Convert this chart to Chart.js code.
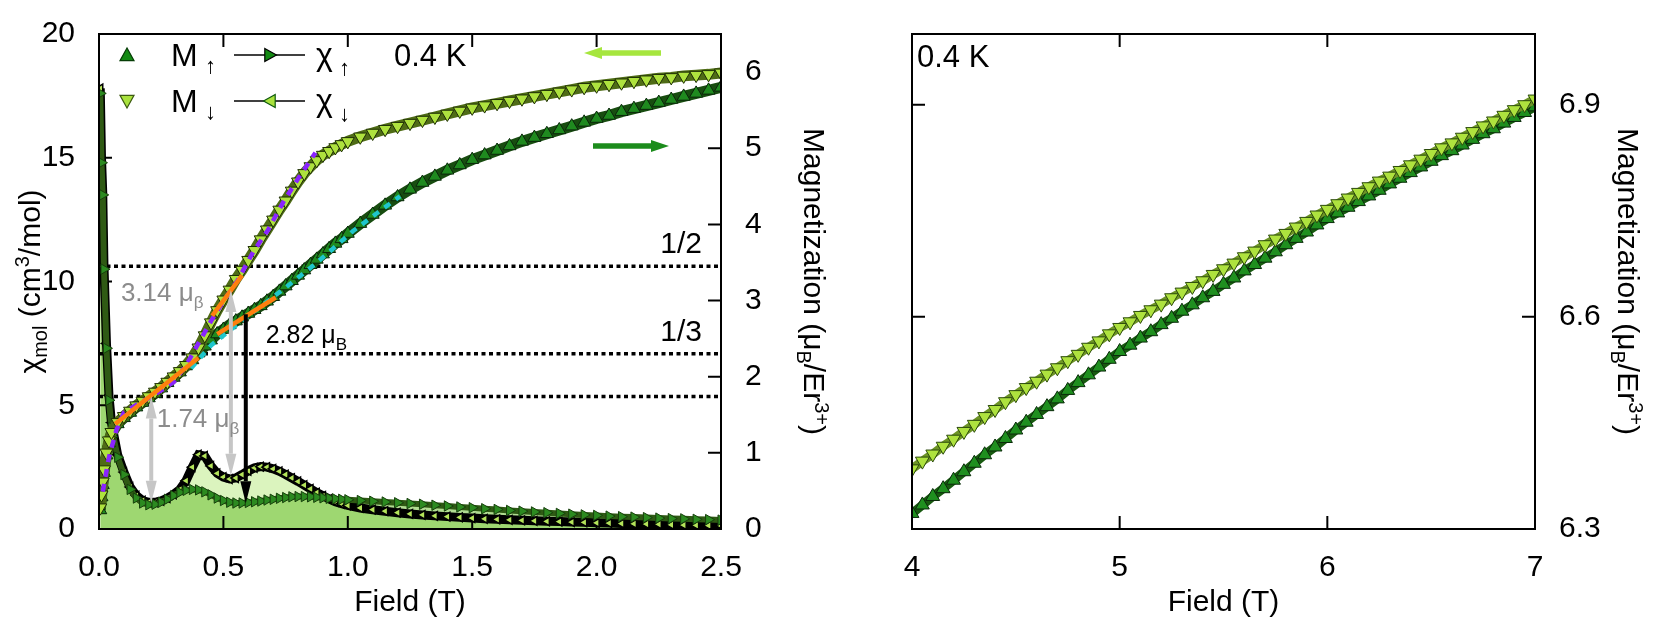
<!DOCTYPE html>
<html>
<head>
<meta charset="utf-8">
<script src="https://cdn.jsdelivr.net/npm/chart.js@4.4.1/dist/chart.umd.min.js"></script>
<style>
  html, body { margin: 0; padding: 0; background: #fff; }
  #wrap { position: relative; width: 1662px; height: 624px; }
  canvas { position: absolute; top: 0; }
  #left { left: 0; }
  #right { left: 860px; }
</style>
</head>
<body>
<div id="wrap">
  <canvas id="left" width="860" height="624"></canvas>
  <canvas id="right" width="802" height="624"></canvas>
</div>
<script>
// ---- left panel: 0 - 2.5 T ----
const FIELD = [0.005,0.01,0.015,0.02,0.03,0.04,0.05,
  0.075,0.1,0.125,0.15,0.175,0.2,0.225,0.25,0.275,0.3,
  0.325,0.35,0.375,0.4,0.425,0.45,0.475,0.5,0.525,0.55,
  0.575,0.6,0.625,0.65,0.675,0.7,0.725,0.75,0.775,0.8,
  0.825,0.85,0.875,0.9,0.925,0.95,0.975,1.0,
  1.05,1.1,1.15,1.2,1.25,1.3,1.35,1.4,1.45,1.5,
  1.55,1.6,1.65,1.7,1.75,1.8,1.85,1.9,1.95,2.0,
  2.05,2.1,2.15,2.2,2.25,2.3,2.35,2.4,2.45,2.5];

// magnetization, uB/Er3+
const M_DOWN = [0.28,0.45,0.62,0.78,1.00,1.16,1.27,
  1.40,1.48,1.55,1.62,1.68,1.74,1.80,1.86,1.93,2.00,
  2.07,2.15,2.25,2.38,2.54,2.71,2.87,3.01,3.14,3.28,
  3.40,3.53,3.66,3.80,3.93,4.06,4.19,4.31,4.44,4.56,
  4.67,4.76,4.84,4.91,4.96,5.01,5.05,5.09,
  5.15,5.20,5.25,5.29,5.33,5.37,5.41,5.45,5.49,5.53,
  5.56,5.59,5.62,5.65,5.68,5.71,5.74,5.77,5.80,5.82,
  5.84,5.86,5.88,5.90,5.92,5.93,5.95,5.96,5.97,5.99];
const M_UP = [0.25,0.42,0.58,0.74,0.97,1.13,1.25,
  1.38,1.46,1.53,1.60,1.66,1.72,1.78,1.85,1.92,1.99,
  2.06,2.14,2.22,2.31,2.40,2.48,2.56,2.62,2.68,2.73,
  2.78,2.83,2.88,2.93,2.99,3.05,3.12,3.19,3.26,3.33,
  3.40,3.47,3.54,3.61,3.68,3.75,3.81,3.88,
  4.01,4.13,4.25,4.36,4.46,4.55,4.63,4.71,4.78,4.85,
  4.91,4.97,5.03,5.09,5.14,5.19,5.24,5.29,5.34,5.39,
  5.43,5.48,5.52,5.56,5.60,5.64,5.68,5.72,5.76,5.80];

// susceptibility, cm3/mol
const CHI_DOWN = [17.8,15.0,13.6,10.6,7.5,5.4,4.3,
  3.0,2.3,1.7,1.35,1.15,1.08,1.08,1.14,1.25,1.4,
  1.6,1.95,2.5,3.0,2.95,2.55,2.25,2.1,2.02,2.06,
  2.2,2.35,2.47,2.52,2.5,2.43,2.33,2.2,2.06,1.92,
  1.77,1.62,1.47,1.34,1.21,1.1,1.02,0.95,
  0.85,0.78,0.72,0.66,0.61,0.57,0.53,0.5,0.47,0.44,
  0.41,0.39,0.37,0.35,0.33,0.31,0.3,0.28,0.27,0.25,
  0.24,0.22,0.21,0.2,0.19,0.17,0.16,0.15,0.14,0.13];
const CHI_UP = [17.6,14.8,13.5,10.5,7.3,5.2,4.1,
  2.9,2.2,1.6,1.25,1.05,0.98,1.0,1.08,1.2,1.35,
  1.48,1.56,1.6,1.58,1.5,1.38,1.25,1.15,1.08,1.05,
  1.05,1.07,1.1,1.13,1.17,1.2,1.24,1.27,1.3,1.31,
  1.31,1.3,1.28,1.26,1.24,1.22,1.2,1.18,
  1.15,1.12,1.09,1.06,1.03,1.0,0.96,0.93,0.89,0.86,
  0.82,0.79,0.75,0.72,0.69,0.66,0.63,0.6,0.57,0.55,
  0.52,0.5,0.48,0.46,0.44,0.42,0.41,0.39,0.38,0.36];

// fits (uB)
const ORANGE1_F = [0.065, 0.40],  ORANGE1_M = [1.38, 2.25];
const ORANGE2_F = [0.455, 0.575], ORANGE2_M = [2.80, 3.33];
const ORANGE3_F = [0.475, 0.71],  ORANGE3_M = [2.56, 3.04];
const PURPLE_F = [0.015,0.04,0.07,0.1,0.15,0.2,0.25,0.3,0.35,0.4,0.45,0.5,0.56,0.62,0.68,0.74,0.81,0.87];
const PURPLE_M = [0.49,0.94,1.30,1.53,1.63,1.72,1.82,1.93,2.15,2.44,2.73,2.99,3.28,3.64,3.93,4.29,4.65,4.94];
const CYAN_F = [0.37,0.45,0.6,0.75,0.85,0.93,1.02,1.11,1.21];
const CYAN_M = [2.11,2.41,2.80,3.17,3.43,3.65,3.91,4.13,4.37];

// plateau levels (uB) and their labels
const LEVELS = [3.45, 2.30, 1.74];
const LEVEL_LABELS = ['1/2', '1/3', ''];

// vertical arrows: field, top (uB), bottom (cm3/mol)
const ARROW_F   = [0.21, 0.53, 0.59];
const ARROW_TOP = [1.74, 3.14, 2.82];
const ARROW_BOT = [1.06, 2.15, 1.04];

const X_TICKS = [0, 0.5, 1.0, 1.5, 2.0, 2.5];
const Y_TICKS = [0, 5, 10, 15, 20];
const Y2_TICKS = [0, 1, 2, 3, 4, 5, 6];

// ---- right panel: 4 - 7 T ----
const FIELD_HI = [4.0,4.05,4.1,4.15,4.2,4.25,4.3,4.35,4.4,4.45,4.5,
  4.55,4.6,4.65,4.7,4.75,4.8,4.85,4.9,4.95,5.0,
  5.05,5.1,5.15,5.2,5.25,5.3,5.35,5.4,5.45,5.5,
  5.55,5.6,5.65,5.7,5.75,5.8,5.85,5.9,5.95,6.0,
  6.05,6.1,6.15,6.2,6.25,6.3,6.35,6.4,6.45,6.5,
  6.55,6.6,6.65,6.7,6.75,6.8,6.85,6.9,6.95,7.0];
const MH_DOWN = [6.385,6.396,6.406,6.417,6.427,6.438,6.448,6.459,6.469,6.480,6.490,
  6.500,6.509,6.519,6.528,6.538,6.547,6.557,6.566,6.576,6.585,
  6.593,6.602,6.610,6.618,6.627,6.635,6.643,6.651,6.660,6.668,
  6.676,6.685,6.693,6.702,6.710,6.718,6.727,6.735,6.744,6.752,
  6.760,6.768,6.776,6.784,6.792,6.799,6.807,6.815,6.823,6.831,
  6.839,6.846,6.854,6.862,6.870,6.877,6.885,6.893,6.900,6.908];
const MH_UP = [6.322,6.334,6.346,6.357,6.369,6.381,6.393,6.405,6.416,6.428,6.440,
  6.451,6.462,6.473,6.484,6.496,6.507,6.518,6.529,6.540,6.551,
  6.560,6.570,6.579,6.589,6.598,6.608,6.617,6.627,6.636,6.646,
  6.655,6.665,6.674,6.683,6.692,6.702,6.711,6.720,6.730,6.739,
  6.747,6.755,6.763,6.771,6.779,6.788,6.796,6.804,6.812,6.820,
  6.828,6.835,6.843,6.851,6.859,6.866,6.874,6.882,6.889,6.897];
const X_TICKS_HI = [4, 5, 6, 7];
const Y_TICKS_HI = [6.3, 6.6, 6.9];

// ---- helpers ----
const FONT = '"Liberation Sans", Arial, sans-serif';
const DARK = '#138a13', LIGHT = '#a9e23d';
const TL = 13, FS = 30;
const pts = (fs, vs) => fs.map((f, i) => ({x: f, y: vs[i]}));
const fnt = s => s + 'px ' + FONT;

function runsWidth(ctx, runs) {
  let w = 0;
  runs.forEach(r => { ctx.font = fnt(r.s); w += ctx.measureText(r.t).width; });
  return w;
}
function drawRuns(ctx, x, y, runs, align) {
  let cx = align === 'center' ? x - runsWidth(ctx, runs) / 2 : x;
  ctx.textAlign = 'left'; ctx.textBaseline = 'alphabetic';
  runs.forEach(r => { ctx.font = fnt(r.s); ctx.fillText(r.t, cx, y + (r.dy || 0)); cx += ctx.measureText(r.t).width; });
}
function vTitle(ctx, x, y, rot, runs) {
  ctx.save(); ctx.translate(x, y); ctx.rotate(rot); ctx.fillStyle = '#000';
  drawRuns(ctx, 0, 10, runs, 'center'); ctx.restore();
}
function tri(ctx, x, y, r, dir, fill, stroke) {
  const p = {up:[[0,-r],[-r,r*0.8],[r,r*0.8]], down:[[0,r],[-r,-r*0.8],[r,-r*0.8]],
             right:[[r,0],[-r*0.8,-r],[-r*0.8,r]], left:[[-r,0],[r*0.8,-r],[r*0.8,r]]}[dir];
  ctx.beginPath(); ctx.moveTo(x+p[0][0], y+p[0][1]); ctx.lineTo(x+p[1][0], y+p[1][1]); ctx.lineTo(x+p[2][0], y+p[2][1]); ctx.closePath();
  ctx.fillStyle = fill; ctx.fill(); ctx.strokeStyle = stroke; ctx.lineWidth = 1.2; ctx.stroke();
}
function hArrow(ctx, x1, x2, y, color, w, hl, hw) {
  const d = Math.sign(x2 - x1);
  ctx.strokeStyle = color; ctx.fillStyle = color; ctx.lineWidth = w;
  ctx.beginPath(); ctx.moveTo(x1, y); ctx.lineTo(x2 - d*hl, y); ctx.stroke();
  ctx.beginPath(); ctx.moveTo(x2, y); ctx.lineTo(x2 - d*hl, y - hw/2); ctx.lineTo(x2 - d*hl, y + hw/2); ctx.closePath(); ctx.fill();
}
function vArrow(ctx, x, y1, y2, color, both) {
  const hl = 22, hw = 11;
  ctx.strokeStyle = color; ctx.fillStyle = color; ctx.lineWidth = 4;
  ctx.beginPath(); ctx.moveTo(x, both ? y1 + hl : y1); ctx.lineTo(x, y2 - hl); ctx.stroke();
  ctx.beginPath(); ctx.moveTo(x, y2); ctx.lineTo(x - hw/2, y2 - hl); ctx.lineTo(x + hw/2, y2 - hl); ctx.closePath(); ctx.fill();
  if (both) { ctx.beginPath(); ctx.moveTo(x, y1); ctx.lineTo(x - hw/2, y1 + hl); ctx.lineTo(x + hw/2, y1 + hl); ctx.closePath(); ctx.fill(); }
}
function drawTicks(chart, xv, lId, lv, rId, rv) {
  const {ctx, chartArea: a, scales} = chart;
  ctx.save(); ctx.strokeStyle = '#000'; ctx.lineWidth = 2; ctx.beginPath();
  xv.forEach(v => { const p = scales.x.getPixelForValue(v);
    ctx.moveTo(p, a.bottom); ctx.lineTo(p, a.bottom - TL); ctx.moveTo(p, a.top); ctx.lineTo(p, a.top + TL); });
  lv.forEach(v => { const p = scales[lId].getPixelForValue(v); ctx.moveTo(a.left, p); ctx.lineTo(a.left + TL, p); });
  rv.forEach(v => { const p = scales[rId].getPixelForValue(v); ctx.moveTo(a.right, p); ctx.lineTo(a.right - TL, p); });
  ctx.stroke(); ctx.restore();
}
function frame(chart) {
  const {ctx, chartArea: a} = chart;
  ctx.save(); ctx.strokeStyle = '#000'; ctx.lineWidth = 2;
  ctx.strokeRect(a.left, a.top, a.right - a.left, a.bottom - a.top); ctx.restore();
}
const magTitle = [{t:'Magnetization (\u03bc', s:FS}, {t:'B', s:20, dy:7}, {t:'/Er', s:FS}, {t:'3+', s:20, dy:-11}, {t:')', s:FS}];
const tickFont = {family: FONT, size: FS};
const fixTicks = arr => s => { s.ticks = arr.map(v => ({value: v})); };

// ---- left chart ----
const leftDeco = {
  id: 'leftDeco',
  beforeDatasetsDraw(chart) {
    drawTicks(chart, X_TICKS.slice(1, -1), 'y', Y_TICKS.slice(1, -1), 'y2', Y2_TICKS.slice(1));
  },
  afterDraw(chart) {
    const {ctx, chartArea: a, scales} = chart;
    const sx = scales.x, s1 = scales.y, s2 = scales.y2;
    frame(chart);
    ctx.save();
    // arrows between M and chi
    ARROW_F.forEach((f, i) => {
      vArrow(ctx, sx.getPixelForValue(f), s2.getPixelForValue(ARROW_TOP[i]), s1.getPixelForValue(ARROW_BOT[i]),
             i < 2 ? '#c6c6c6' : '#000', i < 2);
    });
    // annotations
    ctx.fillStyle = '#8c8c8c';
    drawRuns(ctx, sx.getPixelForValue(0.088), s2.getPixelForValue(3.11) + 9, [{t:'3.14 ', s:26}, {t:'\u03bc', s:26}, {t:'\u03b2', s:17, dy:7}]);
    drawRuns(ctx, sx.getPixelForValue(0.232), s2.getPixelForValue(1.46) + 9, [{t:'1.74 ', s:26}, {t:'\u03bc', s:26}, {t:'\u03b2', s:17, dy:7}]);
    ctx.fillStyle = '#000';
    drawRuns(ctx, sx.getPixelForValue(0.67), s2.getPixelForValue(2.56) + 9, [{t:'2.82 ', s:25}, {t:'\u03bc', s:25}, {t:'B', s:17, dy:7}]);
    LEVELS.forEach((v, i) => {
      if (LEVEL_LABELS[i]) drawRuns(ctx, sx.getPixelForValue(2.34), s2.getPixelForValue(v) - 13, [{t: LEVEL_LABELS[i], s:FS}], 'center');
    });
    // legend
    const rows = [a.top + 21, a.top + 67];
    tri(ctx, a.left + 28, rows[0], 7, 'up', DARK, '#063d06');
    tri(ctx, a.left + 28, rows[1], 7, 'down', LIGHT, '#3d5a12');
    rows.forEach((y, i) => {
      ctx.fillStyle = '#000';
      drawRuns(ctx, a.left + 72, y + 11, [{t:'M', s:32}]);
      drawRuns(ctx, a.left + 106, y + 18, [{t: i ? '\u2193' : '\u2191', s:22}]);
      ctx.strokeStyle = '#000'; ctx.lineWidth = 1.5;
      ctx.beginPath(); ctx.moveTo(a.left + 135, y); ctx.lineTo(a.left + 206, y); ctx.stroke();
      if (i) tri(ctx, a.left + 171, y, 6.5, 'left', LIGHT, '#0e5a0e');
      else tri(ctx, a.left + 171, y, 6.5, 'right', DARK, '#000');
      ctx.fillStyle = '#000';
      drawRuns(ctx, a.left + 217, y + 10, [{t:'\u03c7', s:32}]);
      drawRuns(ctx, a.left + 240, y + 20, [{t: i ? '\u2193' : '\u2191', s:22}]);
    });
    drawRuns(ctx, a.left + 295, rows[0] + 11, [{t:'0.4 K', s:31}]);
    hArrow(ctx, 661, 584, 53, '#a6e63e', 5.5, 18, 12);
    hArrow(ctx, 593, 669, 146, '#1c8c1c', 5.5, 18, 12);
    // axis titles
    ctx.fillStyle = '#000';
    drawRuns(ctx, (a.left + a.right) / 2, 611, [{t:'Field (T)', s:FS}], 'center');
    vTitle(ctx, 30, (a.top + a.bottom) / 2, -Math.PI / 2,
      [{t:'\u03c7', s:FS}, {t:'mol', s:20, dy:7}, {t:' (cm', s:FS}, {t:'3', s:20, dy:-11}, {t:'/mol)', s:FS}]);
    vTitle(ctx, 814, (a.top + a.bottom) / 2, Math.PI / 2, magTitle);
    ctx.restore();
  }
};

const levelSets = LEVELS.map(v => ({
  data: pts([0, 2.5], [v, v]), yAxisID: 'y2', order: 20,
  borderColor: '#000', borderWidth: 3.5, borderDash: [4, 3.5], pointRadius: 0
}));
const fitLine = (f, m, color, dash, order) => ({
  data: pts(f, m), yAxisID: 'y2', order, borderColor: color, borderWidth: 4.5,
  borderDash: dash, pointRadius: 0, borderCapStyle: 'butt'
});

new Chart(document.getElementById('left'), {
  type: 'line',
  data: { datasets: [
    ...levelSets,
    { data: pts(FIELD, CHI_UP), yAxisID: 'y', order: 5, fill: 'origin',
      backgroundColor: 'rgba(98,186,35,0.5)', borderColor: '#2f5a14', borderWidth: 6,
      pointStyle: 'triangle', rotation: 90, pointRadius: 6,
      pointBackgroundColor: '#2c8a20', pointBorderColor: '#173f0c', pointBorderWidth: 1 },
    { data: pts(FIELD, CHI_DOWN), yAxisID: 'y', order: 6, fill: 'origin',
      backgroundColor: 'rgba(175,230,110,0.45)', borderColor: '#000', borderWidth: 9,
      pointStyle: 'triangle', rotation: -90, pointRadius: 5,
      pointBackgroundColor: '#b4e45a', pointBorderColor: '#000', pointBorderWidth: 1.5 },
    { data: pts(FIELD, M_UP), yAxisID: 'y2', order: 3,
      borderColor: '#184d10', borderWidth: 11,
      pointStyle: 'triangle', rotation: 0, pointRadius: 7.5,
      pointBackgroundColor: '#1f8a1f', pointBorderColor: '#0a260a', pointBorderWidth: 1 },
    { data: pts(FIELD, M_DOWN), yAxisID: 'y2', order: 2,
      borderColor: '#4f6c16', borderWidth: 11,
      pointStyle: 'triangle', rotation: 180, pointRadius: 7.5,
      pointBackgroundColor: '#aee23e', pointBorderColor: '#1d2d05', pointBorderWidth: 1 },
    fitLine(PURPLE_F, PURPLE_M, '#8a24ff', [8, 7], 1),
    fitLine(CYAN_F, CYAN_M, '#1fc6cc', [7, 7], 1),
    fitLine(ORANGE1_F, ORANGE1_M, '#ff7f0e', [], 0),
    fitLine(ORANGE2_F, ORANGE2_M, '#ff7f0e', [], 0),
    fitLine(ORANGE3_F, ORANGE3_M, '#ff7f0e', [], 0)
  ]},
  options: {
    responsive: false, animation: false, clip: 0,
    layout: { padding: { top: 31 } },
    elements: { line: { tension: 0 } },
    plugins: { legend: { display: false }, tooltip: { enabled: false }, filler: { drawTime: 'beforeDatasetsDraw' } },
    scales: {
      x: { type: 'linear', min: 0, max: 2.5, grid: { display: false }, border: { display: false },
           afterBuildTicks: fixTicks(X_TICKS), afterFit: s => { s.height = 95; },
           ticks: { font: tickFont, color: '#000', padding: 13, maxRotation: 0, callback: v => v.toFixed(1) } },
      y: { position: 'left', min: 0, max: 20, grid: { display: false }, border: { display: false },
           afterBuildTicks: fixTicks(Y_TICKS), afterFit: s => { s.width = 99; },
           ticks: { font: tickFont, color: '#000', padding: 16 } },
      y2: { position: 'right', min: 0, max: 6.5, grid: { display: false }, border: { display: false },
            afterBuildTicks: fixTicks(Y2_TICKS), afterFit: s => { s.width = 139; },
            ticks: { font: tickFont, color: '#000', padding: 16 } }
    }
  },
  plugins: [leftDeco]
});

// ---- right chart ----
const rightDeco = {
  id: 'rightDeco',
  beforeDatasetsDraw(chart) {
    drawTicks(chart, X_TICKS_HI.slice(1, -1), 'y', Y_TICKS_HI.slice(1), 'y', Y_TICKS_HI.slice(1));
  },
  afterDraw(chart) {
    const {ctx, chartArea: a} = chart;
    frame(chart);
    ctx.save(); ctx.fillStyle = '#000';
    drawRuns(ctx, a.left + 5, a.top + 33, [{t:'0.4 K', s:31}]);
    drawRuns(ctx, (a.left + a.right) / 2, 611, [{t:'Field (T)', s:FS}], 'center');
    vTitle(ctx, 768, (a.top + a.bottom) / 2, Math.PI / 2, magTitle);
    ctx.restore();
  }
};

new Chart(document.getElementById('right'), {
  type: 'line',
  data: { datasets: [
    { data: pts(FIELD_HI, MH_UP), order: 1, borderColor: '#185a10', borderWidth: 9,
      pointStyle: 'triangle', rotation: 0, pointRadius: 8,
      pointBackgroundColor: '#1f8f1f', pointBorderColor: '#0a2a0a', pointBorderWidth: 1 },
    { data: pts(FIELD_HI, MH_DOWN), order: 0, borderColor: '#6d9426', borderWidth: 9,
      pointStyle: 'triangle', rotation: 180, pointRadius: 8,
      pointBackgroundColor: '#aee23e', pointBorderColor: '#2b4a0c', pointBorderWidth: 1 }
  ]},
  options: {
    responsive: false, animation: false, clip: 0,
    layout: { padding: { top: 31, left: 52 } },
    elements: { line: { tension: 0 } },
    plugins: { legend: { display: false }, tooltip: { enabled: false } },
    scales: {
      x: { type: 'linear', min: 4, max: 7, grid: { display: false }, border: { display: false },
           afterBuildTicks: fixTicks(X_TICKS_HI), afterFit: s => { s.height = 95; },
           ticks: { font: tickFont, color: '#000', padding: 13, maxRotation: 0, callback: v => String(v) } },
      y: { position: 'right', min: 6.3, max: 7.0, grid: { display: false }, border: { display: false },
           afterBuildTicks: fixTicks(Y_TICKS_HI), afterFit: s => { s.width = 127; },
           ticks: { font: tickFont, color: '#000', padding: 16, callback: v => v.toFixed(1) } }
    }
  },
  plugins: [rightDeco]
});
</script>
</body>
</html>
